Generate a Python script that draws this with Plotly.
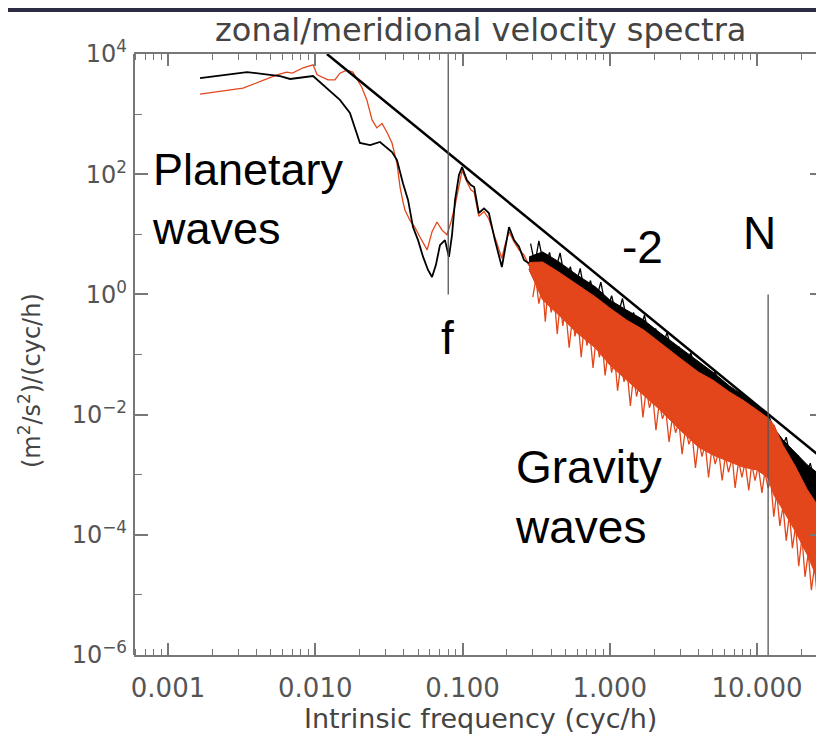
import plotly.graph_objects as go

# ---------------- data ----------------
# low-frequency part, zonal (black)
zonal_freq = [0.00165, 0.00344, 0.00577, 0.00675, 0.00966, 0.0147, 0.0172, 0.0201, 0.0236,
              0.0275, 0.0332, 0.0359, 0.0394, 0.0427, 0.0461, 0.0499, 0.054, 0.0583, 0.0621,
              0.066, 0.0703, 0.076, 0.0809, 0.0849, 0.089, 0.0946, 0.0993, 0.104, 0.107,
              0.114, 0.12, 0.129, 0.14, 0.151, 0.166, 0.185, 0.194, 0.207, 0.224, 0.242,
              0.262, 0.283]
zonal_psd = [3980, 5010, 4300, 3840, 4300, 1720, 1043, 331, 306,
             344, 234, 172, 71, 37, 13.2, 8.0, 4.2, 2.55, 1.95,
             3.1, 6.6, 8.0, 4.2, 9.8, 37, 97, 132, 97, 80,
             66, 61, 22.6, 27, 22.6, 8.0, 2.86, 5.5, 13.2, 8.0, 6.2,
             3.7, 3.3]

# low-frequency part, meridional (orange)
merid_freq = [0.00165, 0.00323, 0.0055, 0.0064, 0.0070, 0.00826, 0.00966, 0.0103, 0.0122,
              0.0136, 0.0147, 0.0164, 0.018, 0.0207, 0.0224, 0.0243, 0.0262, 0.0284,
              0.0307, 0.0332, 0.0359, 0.0377, 0.0394, 0.0407, 0.044, 0.0475, 0.0514,
              0.0575, 0.0621, 0.0671, 0.0726, 0.0785, 0.0835, 0.089, 0.0993, 0.104,
              0.107, 0.114, 0.12, 0.129, 0.14, 0.151, 0.166, 0.185, 0.194, 0.207, 0.224,
              0.242, 0.262, 0.283]
merid_psd = [2150, 2700, 4500, 5000, 4800, 5900, 6600, 4500, 3700,
             3700, 4800, 5400, 5000, 2800, 1720, 800, 590, 700,
             500, 330, 150, 60, 35, 25, 17, 13, 9,
             5.5, 11, 16, 11.7, 9.8, 16, 30, 115, 85,
             75, 55, 50, 20, 24, 18, 9, 4, 6.5, 11, 7.5,
             5.5, 4.5, 3.0]

# high-frequency noisy band: envelopes
band_freq = [0.283, 0.35, 0.45, 0.6, 0.8, 1.0, 1.3, 1.7, 2.2, 3.0, 4.0, 5.0, 6.5, 8.0,
             10, 11.9, 13, 15, 18, 22, 28.5]
zonal_upper = [4.2, 5.1, 3.5, 2.1, 1.33, 0.81, 0.55, 0.375, 0.228, 0.128, 0.075, 0.051,
               0.030, 0.0212, 0.0139, 0.0102, 0.006, 0.0038, 0.0024, 0.00145, 0.00088]
zonal_lower = [2.6, 0.9, 0.5, 0.26, 0.15, 0.08, 0.045, 0.025, 0.014, 0.0068, 0.0035, 0.0025,
               0.0019, 0.0016, 0.0014, 0.0011, 0.0012, 0.0008, 0.0005, 0.00025, 0.0001]
merid_upper = [3.4, 3.46, 2.36, 1.44, 0.905, 0.594, 0.375, 0.256, 0.155, 0.087, 0.051, 0.0377,
               0.0238, 0.0175, 0.0119, 0.00877, 0.0068, 0.0031, 0.00145, 0.00056, 0.000213]
merid_lower = [2.6, 0.81, 0.454, 0.228, 0.128, 0.067, 0.0377, 0.0212, 0.0119, 0.00555,
               0.00289, 0.00213, 0.00163, 0.00134, 0.0012, 0.00088, 0.00046, 0.00026,
               0.00012, 4.6e-5, 1e-5]

# spikes on the band edges
zonal_spike_freq = [0.29, 0.31, 0.33, 0.36, 0.39, 0.42, 0.46, 0.5, 0.54, 0.58, 0.63, 0.68, 0.74,
                    0.8, 0.87, 0.95, 1.03, 1.12, 1.22, 1.33, 1.45, 1.58, 1.72, 1.88, 2.05, 2.25,
                    2.45, 2.7, 2.95, 3.25, 3.55, 3.9, 4.3, 4.7, 5.2, 5.7, 6.3, 6.9, 7.6, 8.4,
                    9.2, 10.1, 11.0, 12.0, 13.1, 14.4, 15.8, 17.3, 19.0, 21.0, 23.0, 25.5, 28.0]
zonal_spike_psd = [7.0, 3.2, 7.8, 2.7, 5.0, 2.1, 4.9, 1.57, 2.9, 1.25, 2.7, 0.95, 1.7,
                   0.74, 1.6, 0.51, 0.95, 0.39, 0.86, 0.29, 0.50, 0.23, 0.45, 0.169, 0.27, 0.122,
                   0.232, 0.088, 0.135, 0.0609, 0.108, 0.044, 0.066, 0.0315, 0.0525, 0.0214, 0.031,
                   0.0146, 0.0245, 0.0102, 0.0145, 0.0074, 0.0117, 0.0054, 0.0064, 0.0024, 0.0042,
                   0.00136, 0.0021, 0.00082, 0.00156, 0.00054, 0.00085]
merid_spike_freq = [0.30, 0.315, 0.33, 0.35, 0.365, 0.38, 0.40, 0.42, 0.44, 0.46, 0.48, 0.50,
                    0.53, 0.56, 0.58, 0.61, 0.64, 0.67, 0.70, 0.73, 0.77, 0.81, 0.85, 0.89,
                    0.93, 0.98, 1.03, 1.08, 1.13, 1.19, 1.25, 1.31, 1.38, 1.45, 1.52, 1.60,
                    1.68, 1.77, 1.86, 1.96, 2.06, 2.17, 2.28, 2.40, 2.53, 2.66, 2.80, 2.95,
                    3.10, 3.27, 3.45, 3.63, 3.82, 4.02, 4.23, 4.45, 4.69, 4.94, 5.2, 5.5,
                    5.8, 6.1, 6.4, 6.8, 7.1, 7.5, 7.9, 8.3, 8.8, 9.2, 9.7, 10.2, 10.8, 11.3,
                    11.9, 12.4, 13.0, 13.6, 14.3, 15.0, 15.8, 16.6, 17.4, 18.3, 19.2, 20.2,
                    21.2, 22.3, 23.4, 24.6, 25.9, 27.2, 28.5]
merid_spike_psd = [0.9, 1.8, 0.7, 1.4, 0.35, 1.2, 0.5, 0.9, 0.22, 0.7, 0.3, 0.6,
                   0.13, 0.45, 0.2, 0.35, 0.09, 0.3, 0.14, 0.25, 0.06, 0.2, 0.09, 0.15,
                   0.045, 0.12, 0.05, 0.09, 0.025, 0.07, 0.035, 0.055, 0.014, 0.045, 0.02, 0.035,
                   0.009, 0.027, 0.013, 0.02, 0.0055, 0.016, 0.0085, 0.012, 0.0035, 0.009,
                   0.005, 0.0075, 0.0022, 0.006, 0.0032, 0.0045, 0.0013, 0.0038, 0.002, 0.0032,
                   0.0009, 0.0028, 0.0015, 0.0024, 0.0008, 0.0021, 0.0011, 0.0019, 0.0006,
                   0.0017, 0.0009, 0.0016, 0.00055, 0.0015, 0.0008, 0.0014, 0.0005, 0.0011,
                   0.0006, 0.0008, 0.0002, 0.0005, 0.00014, 0.0003, 0.00008, 0.00022, 0.00006,
                   0.00014, 0.00003, 0.00009, 0.00002, 0.00005, 0.000012, 0.00003, 0.000007,
                   0.000015, 0.000006]

# reference -2 slope line and the f / N markers
slope_freq = [0.012, 28.5]
slope_psd = [1.0e4, 0.001773]
f_freq = 0.08
f_span = [1.0, 1.0e4]
N_freq = 11.9
N_span = [1.0e-6, 1.0]

x_tickvals = [0.001, 0.01, 0.1, 1, 10]
x_ticktext = ["0.001", "0.010", "0.100", "1.000", "10.000"]
x_minor = [0.0006, 0.0007, 0.0008, 0.0009] + [m * 10.0 ** e for e in (-3, -2, -1, 0, 1) for m in range(2, 10)]
y_tickvals = [1e4, 1e2, 1, 1e-2, 1e-4, 1e-6]
y_ticktext = ["10<sup>4</sup>", "10<sup>2</sup>", "10<sup>0</sup>", "10<sup>−2</sup>",
              "10<sup>−4</sup>", "10<sup>−6</sup>"]
y_minor = [1e3, 1e1, 1e-1, 1e-3, 1e-5]

# ---------------- styling ----------------
OFF = 8                      # page body margin
W, H = 824 - OFF, 738 - OFF
PL, PR, PT, PB = 134, 824, 54, 655      # plot area in screen pixels
L, R, T, B = PL - OFF, W - (PR - OFF), PT - OFF, H - (PB - OFF)
PW, PH = W - L - R, H - T - B
BLACK = "#000000"
ORANGE = "#E3461A"
GRAY = "#777777"
AXFONT = "DejaVu Sans"


def px(xs):
    return (xs - PL) / PW


def py(ys):
    return (PB - ys) / PH


fig = go.Figure()

fig.add_trace(go.Scatter(x=band_freq + band_freq[::-1], y=zonal_upper + zonal_lower[::-1],
                         fill="toself", fillcolor=BLACK, mode="lines",
                         line=dict(color=BLACK, width=1), hoverinfo="skip", showlegend=False))
fig.add_trace(go.Scatter(x=zonal_spike_freq, y=zonal_spike_psd, mode="lines",
                         line=dict(color=BLACK, width=1.3), showlegend=False))
fig.add_trace(go.Scatter(x=band_freq + band_freq[::-1], y=merid_upper + merid_lower[::-1],
                         fill="toself", fillcolor=ORANGE, mode="lines",
                         line=dict(color=ORANGE, width=1), hoverinfo="skip", showlegend=False))
fig.add_trace(go.Scatter(x=merid_spike_freq, y=merid_spike_psd, mode="lines",
                         line=dict(color=ORANGE, width=1.3), showlegend=False))
fig.add_trace(go.Scatter(x=merid_freq, y=merid_psd, mode="lines",
                         line=dict(color=ORANGE, width=1.3), showlegend=False))
fig.add_trace(go.Scatter(x=zonal_freq, y=zonal_psd, mode="lines",
                         line=dict(color=BLACK, width=1.8), showlegend=False))
fig.add_trace(go.Scatter(x=slope_freq, y=slope_psd, mode="lines",
                         line=dict(color=BLACK, width=2.5), showlegend=False))
fig.add_trace(go.Scatter(x=[f_freq, f_freq], y=f_span, mode="lines",
                         line=dict(color="#555555", width=1.3), showlegend=False))
fig.add_trace(go.Scatter(x=[N_freq, N_freq], y=N_span, mode="lines",
                         line=dict(color="#555555", width=1.3), showlegend=False))

fig.update_layout(
    width=W, height=H,
    margin=dict(l=L, r=R, t=T, b=B, pad=0),
    paper_bgcolor="white", plot_bgcolor="white",
    showlegend=False,
    xaxis=dict(type="log", range=[-3.231, 1.455],
               tickmode="array", tickvals=x_tickvals, ticktext=x_ticktext,
               ticks="inside", ticklen=12, tickwidth=1.5, tickcolor=GRAY,
               showline=True, linecolor=GRAY, linewidth=2, mirror="ticks",
               showgrid=False, zeroline=False,
               tickfont=dict(family=AXFONT, size=26, color="#555555"),
               ticklabelstandoff=9,
               minor=dict(tickmode="array", tickvals=x_minor, ticks="inside",
                          ticklen=6, tickwidth=1.2, tickcolor=GRAY, showgrid=False)),
    yaxis=dict(type="log", range=[-6, 4],
               tickmode="array", tickvals=y_tickvals, ticktext=y_ticktext,
               ticks="inside", ticklen=14, tickwidth=1.5, tickcolor=GRAY,
               showline=False, mirror="ticks",
               showgrid=False, zeroline=False,
               tickfont=dict(family=AXFONT, size=24, color="#555555"),
               ticklabelstandoff=6,
               minor=dict(tickmode="array", tickvals=y_minor, ticks="inside",
                          ticklen=8, tickwidth=1.2, tickcolor=GRAY, showgrid=False)),
)

fig.add_shape(type="line", xref="paper", yref="paper", x0=0, x1=0, y0=0, y1=1,
              line=dict(color=GRAY, width=2))
fig.add_shape(type="rect", xref="paper", yref="paper", x0=px(-20), x1=px(850),
              y0=py(OFF + 4), y1=py(-10), fillcolor="#2c2d45", line=dict(width=0), layer="above")

ann = []
ann.append(dict(text="zonal/meridional velocity spectra", x=px(480), y=py(30),
                font=dict(family=AXFONT, size=32, color="#444444")))
ann.append(dict(text="Intrinsic frequency (cyc/h)", x=px(480), y=py(718),
                font=dict(family=AXFONT, size=27, color="#444444")))
ann.append(dict(text="(m<sup>2</sup>/s<sup>2</sup>)/(cyc/h)", x=px(30), y=py(381),
                textangle=-90, font=dict(family=AXFONT, size=24, color="#444444")))
TXT = dict(family="Liberation Sans, Arial", color="black")
ann.append(dict(text="Planetary<br>waves", x=px(150), y=py(199), xanchor="left", align="left",
                font=dict(size=45, **TXT)))
ann.append(dict(text="Gravity<br>waves", x=px(513), y=py(497), xanchor="left", align="left",
                font=dict(size=46, **TXT)))
ann.append(dict(text="f", x=px(447), y=py(338), font=dict(size=46, **TXT)))
ann.append(dict(text="-2", x=px(642), y=py(247), font=dict(size=46, **TXT)))
ann.append(dict(text="N", x=px(759), y=py(233), font=dict(size=46, **TXT)))
for a in ann:
    a.setdefault("xanchor", "center")
    a.update(xref="paper", yref="paper", yanchor="middle", showarrow=False)
fig.update_layout(annotations=ann)

fig.write_html("out.html")
